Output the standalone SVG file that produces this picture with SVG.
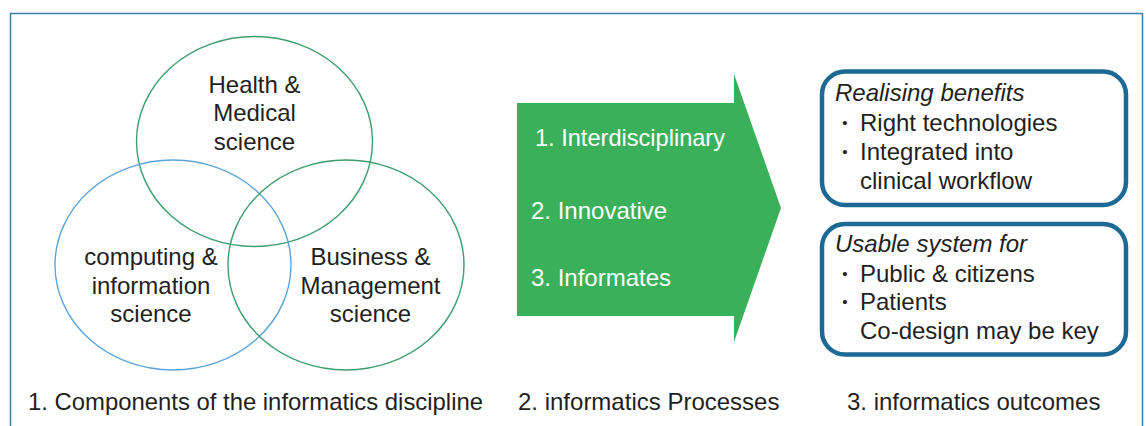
<svg xmlns="http://www.w3.org/2000/svg" width="1146" height="426" viewBox="0 0 1146 426">
<style>
text{font-family:"Liberation Sans",Arial,sans-serif;font-size:24px;fill:#231f20}
text.bl{font-size:15px;text-anchor:middle}
.c{text-anchor:middle}
.w{fill:#ffffff}
.i{font-style:italic}
.venn{fill:none;stroke-width:1.4}
.g{stroke:#3e9d6d}
.b{stroke:#5ca4d6}
.box{fill:#ffffff;stroke:#1b6994;stroke-width:4.5}
</style>
<rect width="1146" height="426" fill="#ffffff"/>
<path d="M10.5 430 V13.5 H1142.5 V430" fill="none" stroke="#3a7fa8" stroke-width="1.5"/>
<g id="health">
<ellipse class="venn g" cx="254.5" cy="141.5" rx="118" ry="105"/>
<text class="c" x="254.5" y="92.5">Health &amp;</text>
<text class="c" x="254.5" y="121">Medical</text>
<text class="c" x="254.5" y="149.5">science</text>
</g>
<g id="computing">
<ellipse class="venn b" cx="173" cy="265" rx="118" ry="105"/>
<text class="c" x="151" y="265">computing &amp;</text>
<text class="c" x="151" y="293.5">information</text>
<text class="c" x="151" y="322">science</text>
</g>
<g id="business">
<ellipse class="venn g" cx="346" cy="265" rx="118" ry="105"/>
<text class="c" x="370.5" y="265">Business &amp;</text>
<text class="c" x="370.5" y="293.5">Management</text>
<text class="c" x="370.5" y="322">science</text>
</g>
<g id="processes">
<polygon points="517,103 734,103 734,74 781,208 734,342 734,316 517,316" fill="#3bb05b"/>
<text class="w" x="535" y="146" textLength="190" lengthAdjust="spacingAndGlyphs">1. Interdisciplinary</text>
<text class="w" x="531" y="219">2. Innovative</text>
<text class="w" x="531" y="286">3. Informates</text>
</g>
<g id="benefits">
<rect class="box" x="822" y="71.5" width="304" height="133.5" rx="23"/>
<text class="i" x="835" y="101">Realising benefits</text>
<text class="bl" x="845" y="128">•</text>
<text x="860" y="131">Right technologies</text>
<text class="bl" x="845" y="157">•</text>
<text x="860" y="160">Integrated into</text>
<text x="860" y="188.5">clinical workflow</text>
</g>
<g id="usable">
<rect class="box" x="822" y="224" width="304" height="130.5" rx="23"/>
<text class="i" x="835" y="252">Usable system for</text>
<text class="bl" x="845" y="279">•</text>
<text x="860" y="282">Public &amp; citizens</text>
<text class="bl" x="845" y="307">•</text>
<text x="860" y="310">Patients</text>
<text x="860" y="338.5">Co-design may be key</text>
</g>
<g id="captions">
<text x="28" y="410" textLength="455" lengthAdjust="spacingAndGlyphs">1. Components of the informatics discipline</text>
<text x="518" y="410">2. informatics Processes</text>
<text x="847" y="410">3. informatics outcomes</text>
</g>
<g id="connectors"></g>
</svg>
